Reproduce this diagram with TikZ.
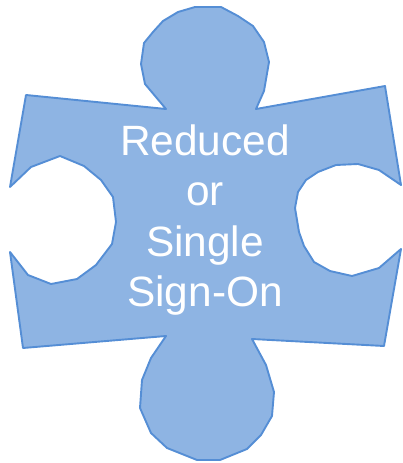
\documentclass[tikz,border=0pt]{standalone}
\usepackage{xcolor}
\usepackage{fontspec}
\setmainfont{Liberation Sans}
\usetikzlibrary{positioning}
\definecolor{piecefill}{HTML}{8EB4E3}
\definecolor{pieceline}{HTML}{558ED5}

\begin{document}
\begin{tikzpicture}[
    x=1pt, y=-1pt,
    piece/.style={draw=pieceline, fill=piecefill, line width=1.9pt, line join=round},
    label/.style={align=center, text=white, inner sep=0pt,
                  font=\fontsize{42.4}{50.5}\selectfont}
]
\useasboundingbox (0,0) rectangle (402,463);
\draw[piece] (221,7) -- (238,16) -- (253,26) -- (264,42) -- (269,62) -- (264,91) -- (256,109)
    -- (385,86) -- (401,185) -- (379,170) -- (358,164) -- (336,165) -- (318,172) -- (306,180)
    -- (298,192) -- (295,208) -- (299,232) -- (304,246) -- (314,262) -- (330,271) -- (352,276)
    -- (379,268) -- (401,249) -- (384,346) -- (252,339) -- (266,365) -- (274,392) -- (272,416)
    -- (261,435) -- (247,449) -- (220,460) -- (197,460) -- (167,448) -- (151,433) -- (140,408)
    -- (142,380) -- (151,358) -- (166,336) -- (23,348) -- (10,252) -- (28,275) -- (51,284)
    -- (77,279) -- (96,265) -- (112,244) -- (116,222) -- (113,197) -- (101,180) -- (84,166)
    -- (60,156) -- (31,167) -- (10,187) -- (26,95) -- (166,109) -- (145,84) -- (141,64)
    -- (144,43) -- (153,32) -- (163,21) -- (178,12) -- (195,7) -- cycle;
\node[label] (title) at (205,220) {Reduced\\or\\Single\\Sign-On};
\end{tikzpicture}
\end{document}
